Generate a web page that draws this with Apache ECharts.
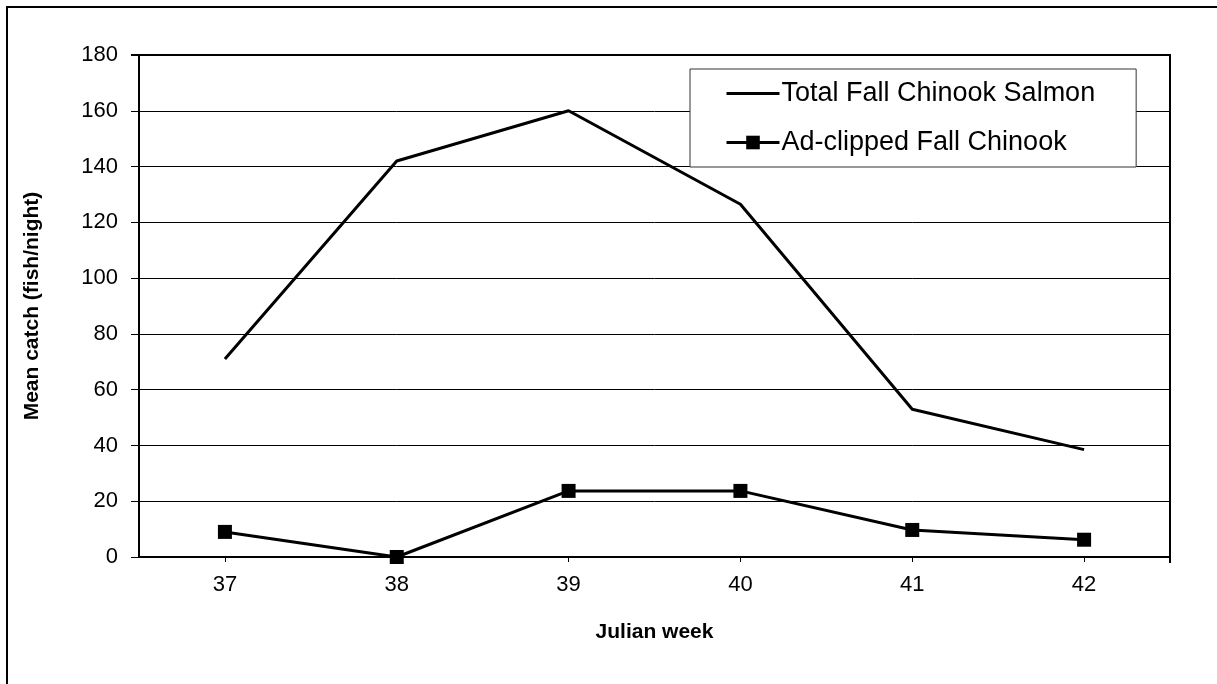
<!DOCTYPE html>
<html>
<head>
<meta charset="utf-8">
<script src="https://cdn.jsdelivr.net/npm/echarts@6/dist/echarts.min.js"></script>
<style>
html,body{margin:0;padding:0;background:#fff;}
#chart{width:1217px;height:684px;}
</style>
</head>
<body>
<div id="chart"></div>
<script>
const weeks = ['37', '38', '39', '40', '41', '42'];
const totalFall = [71, 142, 160, 126.5, 53, 38.5];
const adClipped = [9, 0, 23.7, 23.7, 9.7, 6.2];
const yTicks = { min: 0, max: 180, interval: 20 };

const chart = echarts.init(document.getElementById('chart'), null, { renderer: 'canvas' });
const FONT = '"Liberation Sans", Arial, sans-serif';
chart.setOption({
  backgroundColor: '#fff',
  animation: false,
  graphic: [
    { type: 'rect', shape: { x: 7, y: 7, width: 1400, height: 1000 }, style: { fill: 'none', stroke: '#000', lineWidth: 2 }, silent: true },
    { type: 'line', shape: { x1: 1170, y1: 55, x2: 1170, y2: 563 }, style: { stroke: '#000', lineWidth: 2 }, z: 10, silent: true },
    { type: 'line', shape: { x1: 131, y1: 55, x2: 1171, y2: 55 }, style: { stroke: '#000', lineWidth: 2 }, z: 10, silent: true }
  ],
  grid: { left: 139, right: 47, top: 55, bottom: 127, containLabel: false },
  legend: {
    orient: 'vertical',
    left: 690, top: 69,
    padding: [11, 41, 11, 35],
    itemGap: 22,
    itemWidth: 53, itemHeight: 17,
    backgroundColor: '#fff',
    borderColor: '#333', borderWidth: 1,
    textStyle: { fontFamily: FONT, fontSize: 27, color: '#000', padding: [0, 0, 0, -3] },
    data: [
      { name: 'Total Fall Chinook Salmon', itemStyle: { opacity: 0 }, lineStyle: { width: 3, color: '#000' } },
      { name: 'Ad-clipped Fall Chinook', lineStyle: { width: 3, color: '#000' } }
    ]
  },
  xAxis: {
    type: 'category',
    data: weeks,
    boundaryGap: true,
    name: 'Julian week',
    nameLocation: 'middle',
    nameGap: 65,
    nameTextStyle: { fontFamily: FONT, fontSize: 21, fontWeight: 'bold', color: '#000' },
    axisLine: { show: true, lineStyle: { color: '#000', width: 2 } },
    axisTick: { show: true, alignWithLabel: true, length: 5, lineStyle: { color: '#000', width: 1 } },
    axisLabel: { fontFamily: FONT, fontSize: 22, color: '#000', margin: 17 },
    splitLine: { show: false }
  },
  yAxis: {
    type: 'value',
    min: yTicks.min, max: yTicks.max, interval: yTicks.interval,
    name: 'Mean catch (fish/night)',
    nameLocation: 'middle',
    nameGap: 96,
    nameRotate: 90,
    nameTextStyle: { fontFamily: FONT, fontSize: 21, fontWeight: 'bold', color: '#000' },
    axisLine: { show: true, lineStyle: { color: '#000', width: 2 } },
    axisTick: { show: true, length: 8, lineStyle: { color: '#000', width: 1 } },
    axisLabel: { fontFamily: FONT, fontSize: 22, color: '#000', margin: 21 },
    splitLine: { show: true, lineStyle: { color: '#000', width: 1 } }
  },
  series: [
    {
      name: 'Total Fall Chinook Salmon',
      type: 'line',
      data: totalFall,
      symbol: 'none',
      lineStyle: { color: '#000', width: 3 },
      itemStyle: { color: '#000' },
      z: 5
    },
    {
      name: 'Ad-clipped Fall Chinook',
      type: 'line',
      data: adClipped,
      symbol: 'rect',
      symbolSize: 14,
      lineStyle: { color: '#000', width: 3 },
      itemStyle: { color: '#000' },
      z: 6
    }
  ]
});
</script>
</body>
</html>
